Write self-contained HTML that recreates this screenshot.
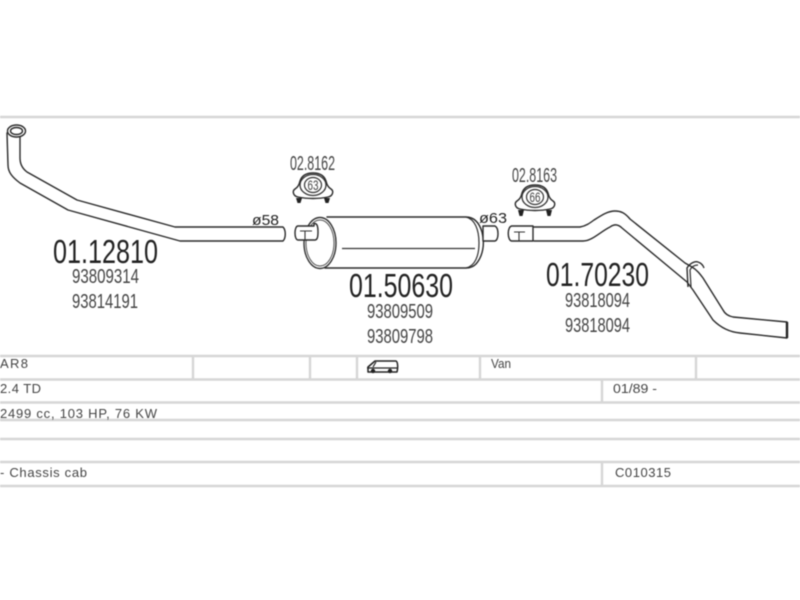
<!DOCTYPE html>
<html>
<head>
<meta charset="utf-8">
<style>
html,body{margin:0;padding:0;background:#fff;width:800px;height:600px;overflow:hidden}
svg{display:block;filter:blur(0.45px)}
text{font-family:"Liberation Sans",sans-serif;fill:#222}
.g{stroke:#d6d6d6;stroke-width:2.4;fill:none}
.p{stroke:#2a2a2a;stroke-width:1.4;fill:#fff;stroke-linejoin:round;stroke-linecap:round}
.m{font-size:33px;fill:#222}
.n{font-size:20px;fill:#444}
.c{font-size:20px;fill:#444}
.t{font-size:13px;fill:#444}
.d{font-size:15px;fill:#222}
</style>
</head>
<body>
<svg width="800" height="600" viewBox="0 0 800 600" xmlns="http://www.w3.org/2000/svg">
<!-- frame and table lines -->
<path class="g" d="M0 117H800 M0 356H800 M0 379.500H800 M0 402.500H800 M0 420H800 M0 439H800 M0 462H800 M0 486H800"/>
<path class="g" d="M193 356V380 M310 356V380 M357 356V380 M480 356V380 M696 356V380 M602 380V403 M602 462V486"/>

<!-- pipe 1 -->
<path class="p" d="M20 133 L20 158 C20 165 23 169 27 172 L77 200 L175 227 H283 C286 230 286 238 283 241 H180 L68 210 L20 183 C12 177 8 172 8 165 L7 133"/>
<ellipse class="p" cx="16.500" cy="131" rx="9" ry="6"/>
<ellipse class="p" cx="16.500" cy="131" rx="6" ry="3.500"/>
<text class="d" x="252" y="225" textLength="27" lengthAdjust="spacingAndGlyphs">ø58</text>
<text class="m" x="53" y="263" textLength="105" lengthAdjust="spacingAndGlyphs">01.12810</text>
<text class="n" x="72" y="283" textLength="67" lengthAdjust="spacingAndGlyphs">93809314</text>
<text class="n" x="72" y="308" textLength="66" lengthAdjust="spacingAndGlyphs">93814191</text>

<!-- clamp 63 -->
<text class="c" x="290" y="170" textLength="45" lengthAdjust="spacingAndGlyphs">02.8162</text>
<g transform="translate(313,185)">
<path class="p" d="M-15 12 C-20 11 -21 6 -18 4 C-15 2 -14 0 -13 -4 C-11 -10 -6 -12 0 -12 C6 -12 11 -10 13 -4 C14 0 15 2 18 4 C21 6 20 11 15 12 C6 14 -6 14 -15 12Z"/>
<ellipse rx="13" ry="10.500" fill="#fff" stroke="#333" stroke-width="1.300"/>
<ellipse rx="8.500" ry="7.500" fill="#fff" stroke="#333" stroke-width="1.200"/>
<text y="5" text-anchor="middle" style="font-size:14px;fill:#444" textLength="11" lengthAdjust="spacingAndGlyphs">63</text>
<path d="M-17 13h6l-1.500 5h-3z M11 13h6l-1.500 5h-3z" fill="#222"/>
</g>

<!-- muffler -->
<path class="p" d="M327 217 H466 C474 217 479 222 482 232 C485 244 483 256 476 264 C473 267 470 268 466 268 H325"/>
<path d="M466 217 C475 219 479 230 479 243 C479 256 475 266 466 268" fill="none" stroke="#333" stroke-width="1.200"/>
<ellipse cx="320" cy="243" rx="16" ry="25.500" fill="#fff" stroke="#333" stroke-width="1.400"/>
<ellipse cx="320" cy="243" rx="14" ry="23" fill="none" stroke="#555" stroke-width="1"/>
<path d="M342 248.500H475" stroke="#333" stroke-width="1.200" fill="none"/>
<!-- inlet stub -->
<path class="p" d="M298 226 H314 V223.500 C317 223 318 226 318 232 C318 238 317 240.500 314 240 H298 C294 240 294 226 298 226Z"/>
<path d="M300 231H312 M305 231V240" stroke="#333" stroke-width="1.100" fill="none"/>
<!-- outlet stub -->
<path class="p" d="M483 226 H495 C499 228 499 240 495 241 H483Z"/>
<text class="d" x="479" y="223" textLength="28" lengthAdjust="spacingAndGlyphs">ø63</text>
<text class="m" x="349" y="297" textLength="104" lengthAdjust="spacingAndGlyphs">01.50630</text>
<text class="n" x="367" y="318" textLength="66" lengthAdjust="spacingAndGlyphs">93809509</text>
<text class="n" x="367" y="343" textLength="66" lengthAdjust="spacingAndGlyphs">93809798</text>

<!-- clamp 66 -->
<text class="c" x="512" y="182" textLength="45" lengthAdjust="spacingAndGlyphs">02.8163</text>
<g transform="translate(535,197)">
<path class="p" d="M-15 12 C-20 11 -21 6 -18 4 C-15 2 -14 0 -13 -4 C-11 -10 -6 -12 0 -12 C6 -12 11 -10 13 -4 C14 0 15 2 18 4 C21 6 20 11 15 12 C6 14 -6 14 -15 12Z"/>
<ellipse rx="13" ry="10.500" fill="#fff" stroke="#333" stroke-width="1.300"/>
<ellipse rx="8.500" ry="7.500" fill="#fff" stroke="#333" stroke-width="1.200"/>
<text y="5" text-anchor="middle" style="font-size:14px;fill:#444" textLength="11" lengthAdjust="spacingAndGlyphs">66</text>
<path d="M-17 13h6l-1.500 6h-3z M11 13h6l-1.500 6h-3z" fill="#222"/>
</g>

<!-- pipe 3 -->
<path class="p" d="M534 227 H580 C586 226 590 223 594 220 C602 215 608 211 615 211 C621 211 625 213 630 219 L685 263 L692 267 C697 270 700 274 703 278 L723 310 C725 314 728 316 733 317 L787 322 L787 338 L740 333 C729 332 720 327 713 320 L693 290 L687 282 L622 228 C618 224 614 224 610 227 C600 232 592 241 583 241 H534"/>
<path class="p" d="M512 226 H533 V241 H512 C507 241 507 226 512 226Z"/>
<path d="M514 232H525 M519 232V241" stroke="#333" stroke-width="1.100" fill="none"/>
<path d="M688 287 L687 268 C690 263 695 261 698 262 C701 263 703 265 704 268" fill="none" stroke="#2a2a2a" stroke-width="1.400"/>
<path d="M691 287 L690 270 C692 266 695 265 698 265" fill="none" stroke="#2a2a2a" stroke-width="1.200"/>
<path d="M787 322 L787 338" stroke="#222" stroke-width="2.400" fill="none"/>
<text class="m" x="546" y="286" textLength="103" lengthAdjust="spacingAndGlyphs">01.70230</text>
<text class="n" x="565" y="307" textLength="65" lengthAdjust="spacingAndGlyphs">93818094</text>
<text class="n" x="565" y="332" textLength="65" lengthAdjust="spacingAndGlyphs">93818094</text>

<!-- van icon -->
<path d="M368 367 L375 361 H396 C398 362 398 368 397 372 H368Z" fill="#fff" stroke="#222" stroke-width="1.500" stroke-linejoin="round"/>
<path d="M367 368 H397 M376 362 L373 367" stroke="#222" stroke-width="1.200" fill="none"/>
<circle cx="373" cy="371" r="2.200" fill="#222"/>
<circle cx="390" cy="371" r="2.200" fill="#222"/>

<!-- table text -->
<text class="t" x="0" y="368" textLength="28" lengthAdjust="spacing">AR8</text>
<text class="t" x="491" y="368" textLength="20" lengthAdjust="spacingAndGlyphs">Van</text>
<text class="t" x="0" y="393" textLength="41" lengthAdjust="spacing">2.4 TD</text>
<text class="t" x="613" y="393" textLength="44" lengthAdjust="spacingAndGlyphs">01/89 -</text>
<text class="t" x="0" y="418" textLength="157" lengthAdjust="spacing">2499 cc, 103 HP, 76 KW</text>
<text class="t" x="0" y="477" textLength="87" lengthAdjust="spacing">- Chassis cab</text>
<text class="t" x="615" y="477" textLength="56" lengthAdjust="spacing">C010315</text>
</svg>
</body>
</html>
